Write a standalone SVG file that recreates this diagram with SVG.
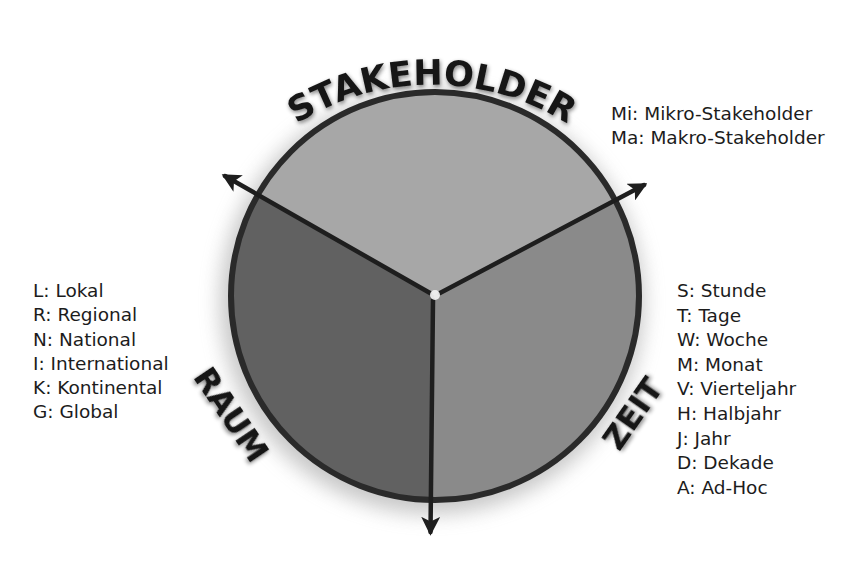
<svg xmlns="http://www.w3.org/2000/svg" width="856" height="571" viewBox="0 0 856 571">
  <defs>
    <filter id="shadow" x="-30%" y="-30%" width="160%" height="160%">
      <feGaussianBlur stdDeviation="10"/>
    </filter>
    <filter id="tshadow" x="-20%" y="-40%" width="140%" height="180%">
      <feGaussianBlur in="SourceAlpha" stdDeviation="2"/>
      <feOffset dx="1" dy="2" result="b"/>
      <feComponentTransfer in="b" result="c"><feFuncA type="linear" slope="0.5"/></feComponentTransfer>
      <feMerge><feMergeNode in="c"/><feMergeNode in="SourceGraphic"/></feMerge>
    </filter>
    <marker id="arrow" viewBox="0 0 10 10" refX="8" refY="5" markerWidth="4.2" markerHeight="4.2" orient="auto" markerUnits="strokeWidth">
      <path d="M0,0 L10,5 L0,10 L2.5,5 Z" fill="#1e1e1e"/>
    </marker>
    <path id="arcTop" d="M 238 175.3 A 253 253 0 0 1 626 175.3"/>
  </defs>
  <style>
    .legend { font-family: "DejaVu Sans", "Liberation Sans", sans-serif; font-size: 18.5px; fill: #1c1c1c; }
    .title { font-family: "DejaVu Sans", "Liberation Sans", sans-serif; font-weight: bold; fill: #141414; }
    .axis { stroke: #1e1e1e; stroke-width: 4.5; fill: none; stroke-linecap: round; marker-end: url(#arrow); }
  </style>
  <rect width="856" height="571" fill="#ffffff"/>

  <!-- soft shadow around the circle -->
  <circle cx="432" cy="302" r="212" fill="#9a9a9a" opacity="0.55" filter="url(#shadow)"/>

  <g id="sector-stakeholder">
    <path d="M 434 295 L 257.8 194.9 A 204 204 0 0 1 616 201.8 Z" fill="#a7a7a7"/>
  </g>
  <g id="sector-zeit">
    <path d="M 434 295 L 616 201.8 A 204 204 0 0 1 432.5 500 Z" fill="#8a8a8a"/>
  </g>
  <g id="sector-raum">
    <path d="M 434 295 L 432.5 500 A 204 204 0 0 1 257.8 194.9 Z" fill="#616161"/>
  </g>
  <g id="circle-outline">
    <circle cx="435" cy="296" r="204" fill="none" stroke="#2a2a2a" stroke-width="6"/>
  </g>

  <g id="connectors">
    <line class="axis" x1="430" y1="293" x2="225" y2="176"/>
    <line class="axis" x1="440" y1="293" x2="644" y2="185"/>
    <line class="axis" x1="433" y1="300" x2="430.5" y2="532"/>
  </g>
  <circle cx="435" cy="295" r="5" fill="#f4f4f4" opacity="0.9"/>

  <g id="label-stakeholder">
    <text class="title" font-size="35" filter="url(#tshadow)"><textPath href="#arcTop" startOffset="50%" text-anchor="middle">STAKEHOLDER</textPath></text>
  </g>
  <g id="label-raum">
    <text class="title" font-size="32" text-anchor="middle" transform="translate(232,414) rotate(56)" y="11.5" filter="url(#tshadow)">RAUM</text>
  </g>
  <g id="label-zeit">
    <text class="title" font-size="32" text-anchor="middle" transform="translate(632,413) rotate(-55)" y="11.5" filter="url(#tshadow)">ZEIT</text>
  </g>

  <g id="legend-stakeholder">
    <text class="legend" x="611" y="120">Mi: Mikro-Stakeholder</text>
    <text class="legend" x="611" y="144">Ma: Makro-Stakeholder</text>
  </g>
  <g id="legend-raum">
    <text class="legend" x="33" y="297" font-size="19">L: Lokal</text>
    <text class="legend" x="33" y="321" font-size="19">R: Regional</text>
    <text class="legend" x="33" y="345.5" font-size="19">N: National</text>
    <text class="legend" x="33" y="370" font-size="19">I: International</text>
    <text class="legend" x="33" y="394" font-size="19">K: Kontinental</text>
    <text class="legend" x="33" y="418" font-size="19">G: Global</text>
  </g>
  <g id="legend-zeit">
    <text class="legend" x="677" y="297" font-size="18">S: Stunde</text>
    <text class="legend" x="677" y="321.6" font-size="18">T: Tage</text>
    <text class="legend" x="677" y="346.2" font-size="18">W: Woche</text>
    <text class="legend" x="677" y="370.8" font-size="18">M: Monat</text>
    <text class="legend" x="677" y="395.4" font-size="18">V: Vierteljahr</text>
    <text class="legend" x="677" y="420" font-size="18">H: Halbjahr</text>
    <text class="legend" x="677" y="444.6" font-size="18">J: Jahr</text>
    <text class="legend" x="677" y="469.2" font-size="18">D: Dekade</text>
    <text class="legend" x="677" y="493.8" font-size="18">A: Ad-Hoc</text>
  </g>
</svg>
